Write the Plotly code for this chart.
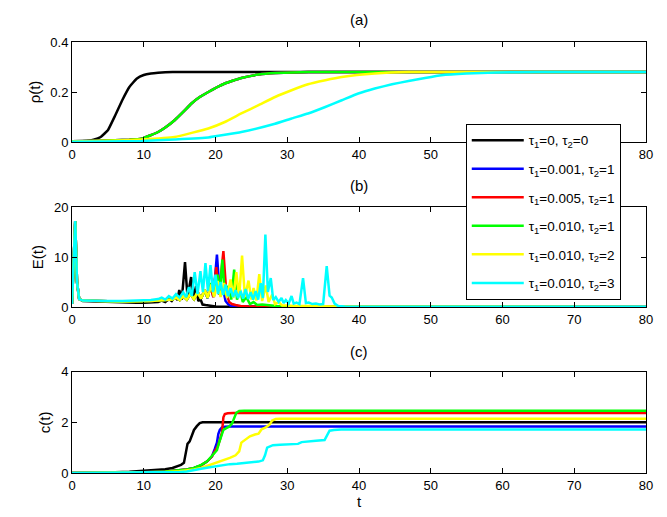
import plotly.graph_objects as go
from plotly.subplots import make_subplots

# ---------------- data ----------------
labels = ["τ<sub>1</sub>=0, τ<sub>2</sub>=0",
          "τ<sub>1</sub>=0.001, τ<sub>2</sub>=1",
          "τ<sub>1</sub>=0.005, τ<sub>2</sub>=1",
          "τ<sub>1</sub>=0.010, τ<sub>2</sub>=1",
          "τ<sub>1</sub>=0.010, τ<sub>2</sub>=2",
          "τ<sub>1</sub>=0.010, τ<sub>2</sub>=3"]
colors = ["#000000", "#0000ff", "#ff0000", "#00ff00", "#ffff00", "#00ffff"]

# panel (a): rho(t)
rho_black_t = [0, 2, 3, 4, 5, 6, 7, 8, 9, 10, 11, 12, 13, 15, 80]
rho_black = [0.001, 0.004, 0.009, 0.02, 0.047, 0.105, 0.167, 0.22, 0.253, 0.268, 0.274, 0.277, 0.279, 0.28, 0.28]
rho_tau2_1_t = [0, 4, 8, 9.7, 12, 13, 14.3, 15.5, 16.65, 17.8, 19, 20.2, 21.3, 22.5, 23.6, 26, 28.3, 33, 80]
rho_tau2_1 = [0.003, 0.005, 0.009, 0.013, 0.04, 0.058, 0.087, 0.12, 0.154, 0.18, 0.2, 0.219, 0.234, 0.246, 0.256,
              0.27, 0.276, 0.28, 0.28]
rho_yellow_t = [0, 5, 9.7, 14.3, 19, 21.3, 23.6, 26, 28.3, 30.6, 32.9, 35.3, 37.6, 42.2, 46.9, 80]
rho_yellow = [0.002, 0.005, 0.01, 0.02, 0.054, 0.08, 0.114, 0.147, 0.18, 0.207, 0.231, 0.247, 0.26, 0.274, 0.28, 0.28]
rho_cyan_t = [0, 5, 9.7, 14.3, 19, 23.6, 28.3, 30.6, 32.9, 35.3, 37.6, 39.9, 42.2, 44.6, 46.9, 49.2, 51.5, 55,
              59, 65, 80]
rho_cyan = [0.001, 0.002, 0.004, 0.01, 0.018, 0.04, 0.073, 0.094, 0.114, 0.14, 0.167, 0.194, 0.214, 0.231, 0.244,
            0.256, 0.267, 0.274, 0.278, 0.28, 0.28]

# panel (b): E(t)
E_black_t = [0, 0.2, 0.45, 0.7, 1.0, 1.5, 3, 5, 7, 9, 10, 11, 12, 12.5, 13, 13.5, 13.9, 14.4, 14.7, 14.95, 15.3,
             15.75, 16.1, 16.6, 16.95, 17.3, 17.6, 17.9, 18.2, 18.6, 19, 19.5, 20, 21, 80]
E_black = [0.6, 9, 17.2, 5, 1.6, 1.2, 1.1, 1.0, 0.9, 0.85, 0.85, 0.9, 1.0, 1.3, 1.0, 1.6, 1.2, 2.2, 1.4, 3.4, 1.5,
           9.0, 2.0, 6.0, 2.0, 4.2, 1.2, 1.6, 0.5, 0.4, 0.3, 0.2, 0.1, 0.05, 0]
E_blue_t = [0, 0.2, 0.45, 0.7, 1.0, 1.5, 3, 5, 7, 9, 11, 12, 13, 14, 14.5, 15, 15.5, 16, 16.5, 17, 17.5, 18, 18.5,
            18.9, 19.3, 19.7, 20.2, 20.6, 21.0, 21.4, 21.8, 22.2, 23, 80]
E_blue = [0.6, 9, 17.2, 5, 1.6, 1.3, 1.2, 1.15, 1.1, 1.1, 1.2, 1.3, 1.4, 1.5, 1.9, 1.4, 2.2, 1.5, 2.6, 1.6, 3.0, 1.7,
          3.5, 1.8, 4.5, 2.0, 10.5, 2.5, 4.0, 1.2, 0.5, 0.2, 0.1, 0]
E_red_t = [0, 0.2, 0.45, 0.7, 1.0, 1.5, 3, 5, 7, 9, 11, 12, 13, 14, 14.5, 15, 15.5, 16, 16.5, 17, 17.5, 18, 18.5,
           18.9, 19.3, 19.7, 20.1, 20.5, 21.1, 21.5, 21.9, 22.3, 22.8, 23.5, 24.5, 80]
E_red = [0.6, 9, 17.2, 5, 1.6, 1.3, 1.2, 1.15, 1.1, 1.1, 1.2, 1.3, 1.4, 1.5, 1.9, 1.4, 2.2, 1.5, 2.6, 1.6, 3.0, 1.7,
         3.4, 1.8, 4.2, 2.0, 8.0, 2.5, 11.2, 3.0, 1.0, 0.6, 0.4, 0.2, 0.1, 0]
E_green_t = [0, 0.2, 0.45, 0.7, 1.0, 1.5, 3, 5, 7, 9, 11, 12, 13, 14, 14.5, 15, 15.5, 16, 16.5, 17, 17.5, 18, 18.5,
             18.9, 19.4, 19.8, 20.3, 20.6, 20.95, 21.3, 21.8, 22.2, 22.6, 23.0, 23.4, 23.8, 24.3, 24.8, 25.3,
             25.8, 26.5, 27.5, 28.5, 30, 80]
E_green = [0.6, 9, 17.2, 5, 1.6, 1.3, 1.2, 1.15, 1.1, 1.1, 1.2, 1.3, 1.4, 1.5, 1.9, 1.4, 2.2, 1.5, 2.6, 1.6, 3.0,
           1.7, 3.4, 1.8, 4.8, 2.2, 6.5, 2.5, 9.5, 2.5, 4.2, 1.5, 7.5, 1.5, 3.5, 1.0, 2.0, 0.6, 1.0, 0.4, 0.5,
           0.3, 0.2, 0.1, 0]
E_yellow_t = [0, 0.2, 0.45, 0.7, 1.0, 1.5, 3, 5, 7, 9, 11, 12, 13, 14, 14.5, 15, 15.5, 16, 16.5, 17, 17.5, 18,
              18.5, 18.9, 19.4, 19.8, 20.3, 20.7, 21.2, 21.6, 22.1, 22.5, 22.9, 23.3, 23.7, 24.1, 24.6, 25.0,
              25.3, 25.7, 26.1, 26.5, 27.0, 27.4, 27.9, 28.3, 28.8, 29.3, 30, 31, 33, 35, 37, 80]
E_yellow = [0.6, 9, 17.2, 5, 1.6, 1.3, 1.2, 1.15, 1.1, 1.1, 1.2, 1.3, 1.4, 1.5, 1.9, 1.4, 2.2, 1.5, 2.6, 1.6, 3.0,
            1.7, 3.5, 1.9, 4.5, 2.0, 5.2, 2.0, 4.8, 1.8, 5.5, 1.8, 7.0, 2.0, 10.3, 2.0, 5.3, 1.5, 3.8, 1.3, 6.6,
            1.2, 4.3, 1.0, 2.5, 0.6, 1.0, 0.3, 0.3, 0.2, 0.2, 0.15, 0.1, 0]
E_cyan_t = [0, 0.2, 0.45, 0.7, 1.0, 1.5, 3, 5, 7, 9, 10, 11, 12, 12.5, 13, 13.5, 14, 14.5, 15, 15.5, 15.9, 16.3,
            16.7, 17.1, 17.5, 17.9, 18.25, 18.6, 18.95, 19.3, 19.65, 20.0, 20.35, 20.7, 21.05, 21.4, 21.75, 22.1,
            22.45, 22.8, 23.15, 23.5, 23.85, 24.2, 24.55, 24.9, 25.25, 25.6, 25.95, 26.3, 26.6, 26.95, 27.3,
            27.7, 28.05, 28.4, 28.8, 29.2, 29.5, 29.8, 30.2, 30.6, 30.9, 31.3, 31.7, 32.2, 32.6, 33.0, 33.5,
            34.0, 34.5, 35.0, 35.5, 35.9, 36.2, 36.6, 37.1, 38, 80]
E_cyan = [0.6, 9, 17.2, 5, 1.6, 1.3, 1.2, 1.2, 1.2, 1.25, 1.3, 1.4, 1.6, 1.9, 1.5, 2.2, 1.7, 2.6, 1.9, 3.0, 2.0,
          4.0, 2.2, 7.0, 2.6, 7.2, 3.0, 8.8, 3.2, 8.4, 3.0, 6.5, 2.6, 5.0, 2.4, 4.5, 2.2, 3.8, 2.0, 3.4, 1.8,
          3.2, 1.7, 3.6, 1.6, 3.0, 1.5, 3.2, 1.5, 4.8, 1.8, 14.5, 3.0, 5.8, 1.4, 2.0, 1.0, 1.8, 0.8, 1.4, 0.7,
          2.2, 0.7, 0.9, 0.6, 5.8, 0.8, 0.9, 0.6, 0.7, 0.5, 0.6, 8.2, 2.3, 1.9, 0.7, 0.2, 0.1, 0.05]

# panel (c): c(t)
c_black_t = [0, 3, 5, 8, 10, 12, 13, 14, 14.6, 15.2, 15.6, 15.9, 16.1, 16.4, 16.7, 17.0, 17.4, 17.8, 18.2, 19, 80]
c_black = [0, 0.005, 0.02, 0.05, 0.08, 0.12, 0.15, 0.2, 0.25, 0.32, 0.4, 0.8, 1.15, 1.25, 1.5, 1.7, 1.85, 1.97,
           2.0, 2.0, 2.0]
c_blue_t = [0, 5, 10, 13, 15, 16, 17, 18, 18.8, 19.5, 19.9, 20.2, 20.4, 20.6, 20.9, 21.3, 22, 80]
c_blue = [0, 0.01, 0.03, 0.06, 0.1, 0.14, 0.2, 0.3, 0.45, 0.65, 0.95, 1.2, 1.55, 1.7, 1.8, 1.83, 1.84, 1.84]
c_red_t = [0, 5, 10, 13, 15, 16, 17, 18, 18.8, 19.5, 19.9, 20.3, 20.6, 20.9, 21.1, 21.3, 21.7, 22.5, 80]
c_red = [0, 0.01, 0.03, 0.06, 0.1, 0.14, 0.2, 0.3, 0.45, 0.65, 0.85, 1.05, 1.3, 1.6, 2.2, 2.33, 2.36, 2.37, 2.37]
c_green_t = [0, 5, 10, 13, 15, 16, 17, 18, 18.8, 19.5, 20.2, 20.5, 20.8, 21.1, 21.5, 21.9, 22.3, 22.6, 22.9, 23.3,
             24, 80]
c_green = [0, 0.01, 0.03, 0.06, 0.1, 0.14, 0.2, 0.32, 0.45, 0.66, 0.9, 1.2, 1.5, 1.7, 1.77, 1.83, 1.95, 2.2, 2.38,
           2.45, 2.46, 2.46]
c_yellow_t = [0, 5, 10, 13, 15, 16, 17, 18, 19, 20, 21, 22, 22.8, 23.3, 23.6, 24.1, 24.8, 25.5, 26.0, 26.4, 27.0,
              27.5, 27.9, 28.4, 29, 80]
c_yellow = [0, 0.01, 0.02, 0.04, 0.07, 0.1, 0.14, 0.2, 0.3, 0.38, 0.5, 0.6, 0.7, 0.85, 1.2, 1.3, 1.45, 1.52, 1.55,
            1.72, 1.8, 1.9, 2.07, 2.13, 2.14, 2.14]
c_cyan_t = [0, 5, 10, 13, 15, 16, 17, 18, 19, 20, 21, 22, 23, 24, 25, 26, 26.6, 26.9, 27.2, 28, 29, 30, 31.5, 32,
            32.5, 34, 35.2, 35.6, 35.9, 36.5, 37.5, 80]
c_cyan = [0, 0.005, 0.01, 0.02, 0.04, 0.06, 0.1, 0.17, 0.22, 0.27, 0.32, 0.35, 0.37, 0.4, 0.42, 0.45, 0.5, 0.7,
          1.0, 1.1, 1.12, 1.13, 1.15, 1.22, 1.24, 1.27, 1.3, 1.55, 1.67, 1.7, 1.72, 1.72]

x_ticks = [0, 10, 20, 30, 40, 50, 60, 70, 80]

rho_series = [(rho_black_t, rho_black), (rho_tau2_1_t, rho_tau2_1), (rho_tau2_1_t, rho_tau2_1),
              (rho_tau2_1_t, rho_tau2_1), (rho_yellow_t, rho_yellow), (rho_cyan_t, rho_cyan)]
E_series = [(E_black_t, E_black), (E_blue_t, E_blue), (E_red_t, E_red), (E_green_t, E_green),
            (E_yellow_t, E_yellow), (E_cyan_t, E_cyan)]
c_series = [(c_black_t, c_black), (c_blue_t, c_blue), (c_red_t, c_red), (c_green_t, c_green),
            (c_yellow_t, c_yellow), (c_cyan_t, c_cyan)]

# ---------------- figure ----------------
fig = make_subplots(rows=3, cols=1)
LW = 2.5
for row, series in [(1, rho_series), (2, E_series), (3, c_series)]:
    for i, (tt, vv) in enumerate(series):
        fig.add_trace(go.Scatter(x=tt, y=vv, mode="lines", name=labels[i],
                                 line=dict(color=colors[i], width=LW, shape="spline", smoothing=0.3)
                                 if row == 1 else dict(color=colors[i], width=LW),
                                 legendgroup=f"g{i}", showlegend=(row == 2)),
                      row=row, col=1)

FONT = "Liberation Sans, Arial, sans-serif"
axis_common = dict(showline=True, linecolor="black", linewidth=1, mirror="ticks", ticks="inside",
                   ticklen=5, tickcolor="black", showgrid=False, zeroline=False,
                   tickfont=dict(family=FONT, size=13, color="black"))

doms = [[0.768, 1.0], [0.385, 0.617], [0.0, 0.235]]
yranges = [[0, 0.4], [0, 20], [0, 4]]
yticks = [[0, 0.2, 0.4], [0, 10, 20], [0, 2, 4]]
yticktext = [["0", "0.2", "0.4"], ["0", "10", "20"], ["0", "2", "4"]]
ytitles = ["ρ(t)", "E(t)", "c(t)"]
for k in range(3):
    sx = "xaxis" if k == 0 else f"xaxis{k+1}"
    sy = "yaxis" if k == 0 else f"yaxis{k+1}"
    fig.layout[sx].update(range=[0, 80], tickvals=x_ticks, domain=[0, 1], **axis_common)
    fig.layout[sy].update(range=yranges[k], tickvals=yticks[k], ticktext=yticktext[k], domain=doms[k],
                          title=dict(text=ytitles[k], font=dict(family=FONT, size=15, color="black"),
                                     standoff=6),
                          **axis_common)
fig.layout.xaxis3.title = dict(text="t", font=dict(family=FONT, size=15, color="black"), standoff=4)

for txt, yy in [("(a)", 1.052), ("(b)", 0.667), ("(c)", 0.282)]:
    fig.add_annotation(text=txt, x=0.5, y=yy, xref="paper", yref="paper", showarrow=False,
                       font=dict(family=FONT, size=15, color="black"), yanchor="middle")

fig.update_layout(
    width=667, height=517,
    margin=dict(l=72, r=21, t=42, b=44, autoexpand=False),
    paper_bgcolor="white", plot_bgcolor="white",
    font=dict(family=FONT, color="black"),
    legend=dict(x=0.686, y=0.81, xanchor="left", yanchor="top", bgcolor="white",
                bordercolor="black", borderwidth=1, tracegroupgap=8, itemwidth=52,
                font=dict(family=FONT, size=13.5, color="black")),
)

fig.write_html("out.html", config={"displayModeBar": False},
               post_script="document.body.style.margin='0';document.body.style.padding='0';")
